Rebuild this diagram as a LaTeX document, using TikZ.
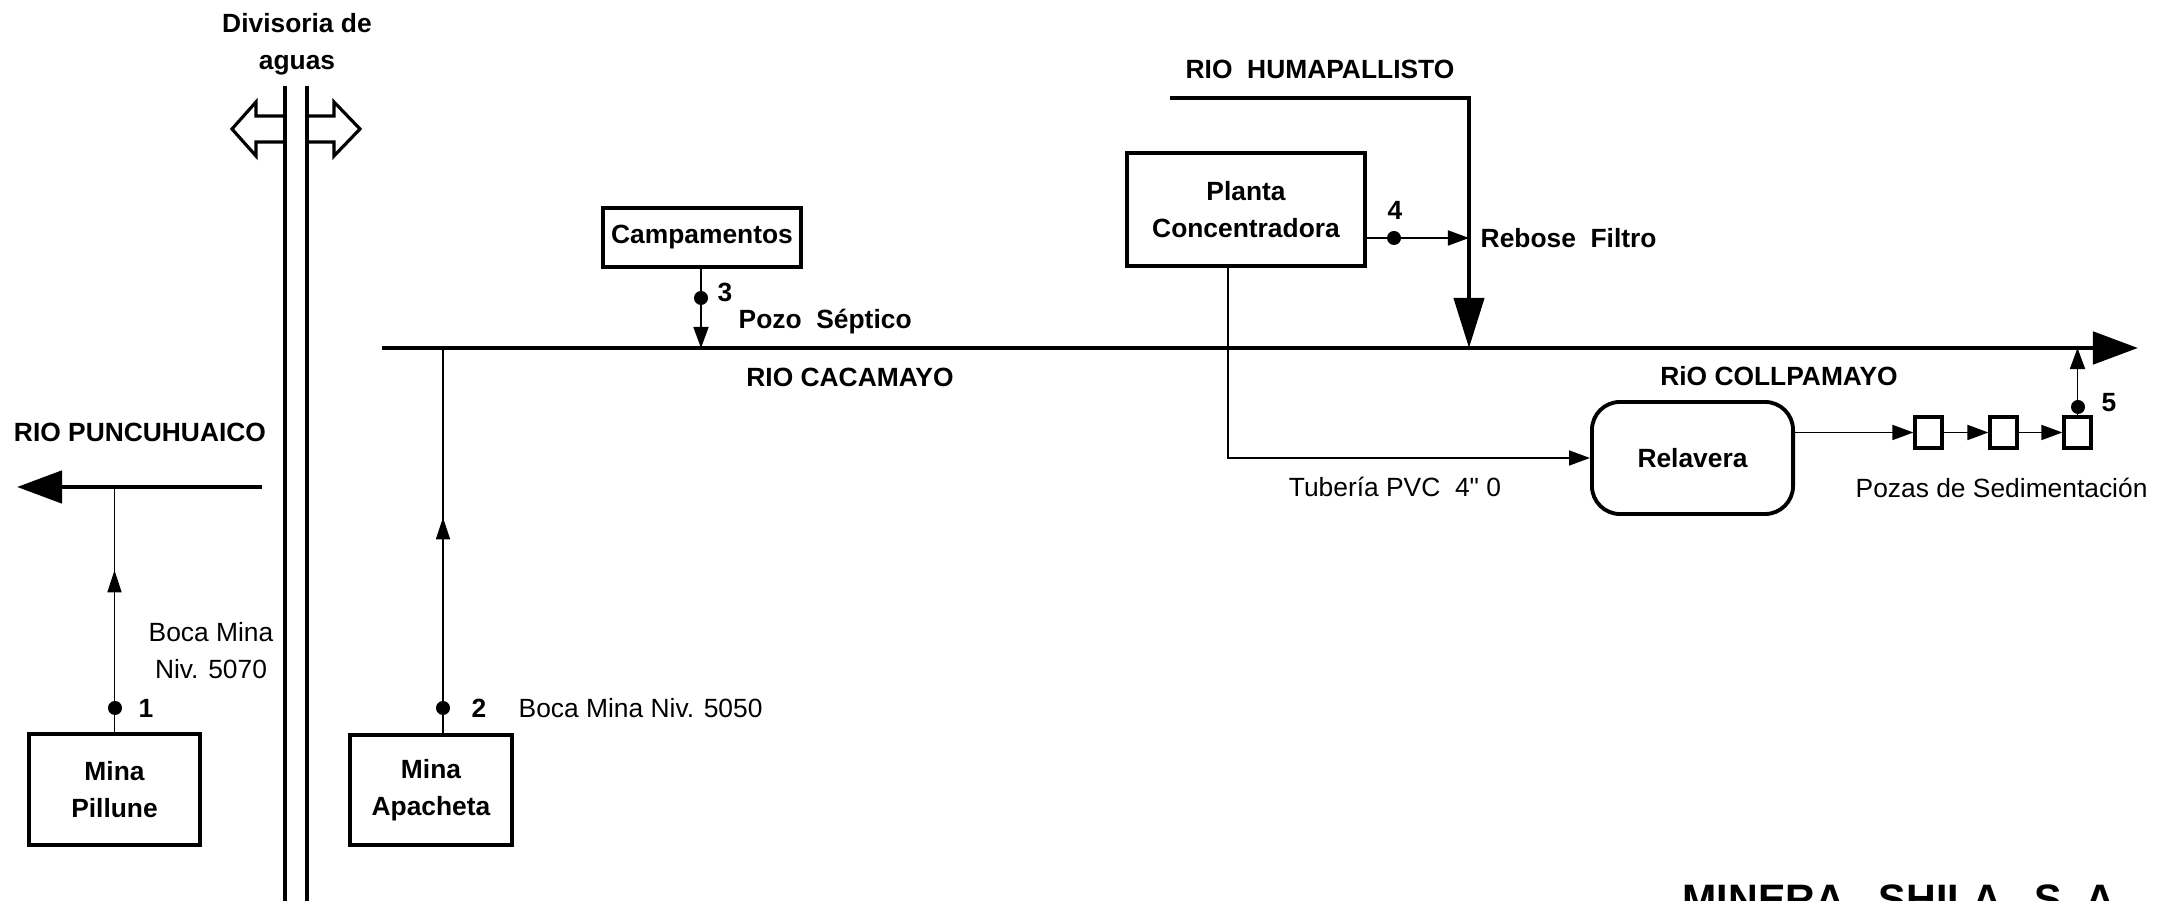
\documentclass[tikz,border=0pt]{standalone}
\usepackage{fontspec}
\setmainfont{Liberation Sans}
\usetikzlibrary{positioning, arrows.meta, decorations.markings}

\begin{document}
\begin{tikzpicture}[
    x=0.01cm, y=-0.01cm,
    font=\fontsize{7.5}{10.5}\selectfont,
    box/.style={
      draw, line width=1.1pt, align=center, inner sep=0pt,
      font=\fontsize{7.5}{10.5}\selectfont\bfseries},
    pond/.style={draw, line width=0.9pt, inner sep=0pt,
                 minimum width=0.27cm, minimum height=0.31cm},
    river/.style={line width=1.4pt},
    bigtip/.style={-{Triangle[length=0.45cm, width=0.32cm]}},
    flow/.style={line width=0.5pt},
    tip/.style={-{Triangle[length=0.21cm, width=0.15cm]}},
    midtip/.style={postaction={decorate, decoration={markings,
      mark=at position #1 with
        {\arrow{Triangle[length=0.22cm, width=0.14cm]}}}}},
    dot/.style={circle, fill, inner sep=0pt, minimum size=0.14cm},
    lbl/.style={inner sep=0pt, align=center},
    blbl/.style={lbl, font=\fontsize{7.5}{10.5}\selectfont\bfseries},
]

% Page frame
\fill[white] (0,0) rectangle (2159,901);
\useasboundingbox (0,0) rectangle (2159,901);

% --- Watershed divide ---
\node[blbl] (divide) at (297,44) {Divisoria de\\aguas};
\draw[river] (285,86) -- (285,905);
\draw[river] (307,86) -- (307,905);
\draw[line width=0.9pt]
  (285,116) -- (256,116) -- (256,102) -- (232,129)
  -- (256,156) -- (256,142) -- (285,142);
\draw[line width=0.9pt]
  (307,116) -- (334,116) -- (334,102) -- (360,129)
  -- (334,156) -- (334,142) -- (307,142);

% --- Rivers ---
\coordinate (punE) at (262,487);
\coordinate (punW) at (17,487);
\draw[river, bigtip] (punE) -- (punW);
\node[blbl] (rpun) at (140,432) {RIO PUNCUHUAICO};

\coordinate (cacW) at (382,348);
\coordinate (colE) at (2138,348);
\draw[river, bigtip] (cacW) -- (colE);
\node[blbl] (rcac) at (850,377) {RIO CACAMAYO};
\node[blbl] (rcol) at (1779,376) {RiO COLLPAMAYO};

\coordinate (humW) at (1170,98);
\coordinate (humC) at (1469,98);
\coordinate (humS) at (1469,348);
\draw[line width=1.2pt, -{Triangle[length=0.5cm, width=0.3cm]}]
  (humW) -- (humC) -- (humS);
\node[blbl] (rhum) at (1320,69) {RIO\ \ HUMAPALLISTO};

% --- Mina Pillune ---
\node[box, minimum width=1.71cm, minimum height=1.11cm]
  (pillune) at (114.5,789.5) {Mina\\Pillune};
\node[dot] (p1) at (115,708) {};
\draw[flow, midtip=0.66] (pillune.north) -- (pillune.north |- punE);
\node[blbl] (n1) at (146,708) {1};
\node[lbl] (boca1) at (211,651) {Boca Mina\\Niv. 5070};

% --- Mina Apacheta ---
\node[box, minimum width=1.62cm, minimum height=1.10cm]
  (apacheta) at (431,790) {Mina\\Apacheta};
\node[dot] (p2) at (443,708) {};
\draw[flow, midtip=0.56] (p2 |- apacheta.north) -- (p2 |- cacW);
\node[blbl] (n2) at (479,708) {2};
\node[lbl, anchor=west] (boca2) at (518,708) {Boca Mina Niv. 5050};

% --- Campamentos ---
\node[box, minimum width=1.98cm, minimum height=0.59cm]
  (camp) at (702,237.5) {Campamentos};
\node[dot] (p3) at (701,298) {};
\draw[flow, tip] (p3 |- camp.south) -- (p3 |- cacW);
\node[blbl] (n3) at (725,292) {3};
\node[blbl, anchor=west] (pozo) at (738,322) {Pozo\ \ S\'eptico};

% --- Planta Concentradora ---
\node[box, minimum width=2.38cm, minimum height=1.13cm]
  (planta) at (1246,209.5) {Planta\\Concentradora};
\node[dot] (p4) at (1394,238) {};
\draw[flow, tip] (planta.east |- p4) -- (humC |- p4);
\node[blbl] (n4) at (1395,210) {4};
\node[blbl, anchor=west] (rebose) at (1480,238) {Rebose\ \ Filtro};

% --- Relavera and ponds ---
\node[box, rounded corners=0.28cm, minimum width=2.01cm,
      minimum height=1.12cm]
  (relavera) at (1692.5,458) {Relavera};
\coordinate (pipe) at (1228,458);
\draw[flow, tip] (pipe |- planta.south) -- (pipe) -- (relavera.west);
\node[lbl] (tuberia) at (1395,487) {Tuber\'ia PVC\ \ 4\textquotedbl\ 0};

\node[pond] (pz1) at (1928.5,432.5) {};
\node[pond] (pz2) at (2003.5,432.5) {};
\node[pond] (pz3) at (2077.5,432.5) {};
\draw[flow, tip] (relavera.east |- pz1) -- (pz1);
\draw[flow, tip] (pz1) -- (pz2);
\draw[flow, tip] (pz2) -- (pz3);
\node[dot] (p5) at (2078,407) {};
\draw[flow, tip] (pz3.north) -- (pz3.north |- colE);
\node[blbl] (n5) at (2109,403) {5};
\node[lbl, anchor=west] (pozas) at (1855,488) {Pozas de Sedimentaci\'on};

% --- Title ---
\node[lbl, anchor=base west, font=\fontsize{11.7}{14}\selectfont\bfseries]
  (minera) at (1682,914)
  {MINERA\hspace{0.34cm}SHILA\hspace{0.32cm}S.\hspace{0.12cm}A.};

\end{tikzpicture}
\end{document}
